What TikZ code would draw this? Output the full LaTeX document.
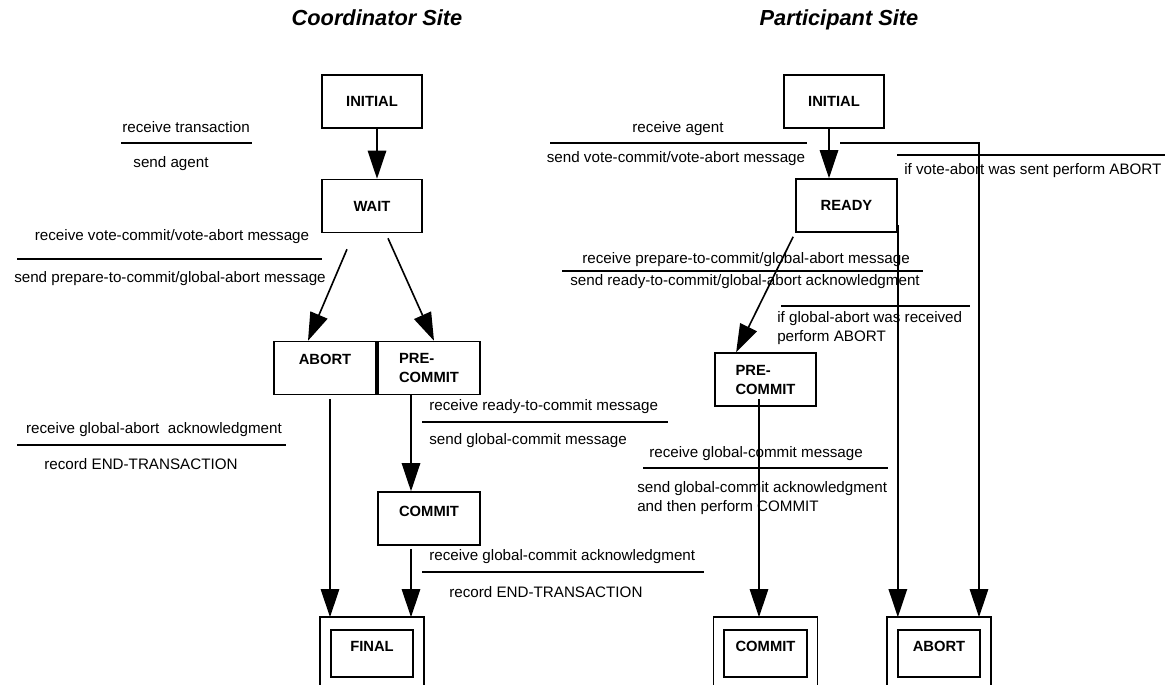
\documentclass[tikz,border=0pt]{standalone}
\usepackage{fontspec}
\setmainfont{Liberation Sans}
\usepackage{tikz}
\usetikzlibrary{arrows.meta, positioning}

\begin{document}
\begin{tikzpicture}[
    x=0.025cm, y=-0.025cm,
    statebox/.style={draw, line width=1.2pt, minimum width=2.5cm, minimum height=1.32cm, inner sep=0pt, align=left, font=\fontsize{10.5}{13.5}\selectfont\bfseries},
    finalbox/.style={statebox, minimum width=2.06cm, minimum height=1.175cm, text depth=0.375cm},
    sitetitle/.style={anchor=mid, font=\fontsize{15.5}{18}\selectfont\bfseries\itshape},
    cond/.style={inner sep=0pt, align=left, font=\fontsize{10.8}{13.5}\selectfont},
    arrw/.style={-{Triangle[length=0.7cm, width=0.46cm]}, line width=1.15pt},
    bar/.style={line width=1.15pt}
]
\useasboundingbox (0,0) rectangle (1166,685);

% Coordinator site
\node[sitetitle] (coordTitle) at (377,22) {Coordinator Site};
\node[statebox] (initL) at (372,101.5) {INITIAL};
\node[statebox] (waitL) at (372,206) {WAIT};
\node[statebox, minimum width=2.55cm, text depth=0.45cm] (abortL) at (325,368) {ABORT};
\node[statebox, minimum width=2.55cm] (precL) at (429,368) {PRE-\\COMMIT};
\node[statebox, minimum width=2.55cm, text depth=0.375cm] (commitL) at (429,518.5) {COMMIT};
\node[finalbox] (finalL) at (372,653.5) {FINAL};

\draw[arrw] ([xshift=0.125cm]initL.south) -- ([xshift=0.125cm]waitL.north);
\draw[arrw] ([shift={(-25,16)}]waitL.south) -- ([shift={(-17,0)}]abortL.north);
\draw[arrw] ([shift={(16,5)}]waitL.south) -- ([shift={(5,0)}]precL.north);
\draw[arrw] ([shift={(5,4)}]abortL.south) -- ([shift={(-42,-12)}]finalL.north);
\draw[arrw] ([shift={(-18,0)}]precL.south) -- ([shift={(-18,0)}]commitL.north);
\draw[arrw] ([shift={(-18,3)}]commitL.south) -- ([shift={(39,-12)}]finalL.north);

\node[cond, anchor=mid] (recvTrans) at (186,129) {receive transaction};
\node[cond, anchor=mid] (sendAgent) at (171,164) {send agent};
\node[cond, anchor=mid] (recvVote) at (172,237) {receive vote-commit/vote-abort message};
\node[cond, anchor=mid] (sendPrep) at (170,279) {send prepare-to-commit/global-abort message};
\node[cond, anchor=mid] (recvAbortAck) at (154,430) {receive global-abort\ \ acknowledgment};
\node[cond, anchor=mid] (recordEndA) at (141,466) {record END-TRANSACTION};
\node[cond, anchor=mid west] (recvReady) at (429,407) {receive ready-to-commit message};
\node[cond, anchor=mid west] (sendCommit) at (429,441) {send global-commit message};
\node[cond, anchor=mid west] (recvCommitAck) at (429,557) {receive global-commit acknowledgment};
\node[cond, anchor=mid west] (recordEndB) at (449,594) {record END-TRANSACTION};

% Participant site
\node[sitetitle] (partTitle) at (839,22) {Participant Site};
\node[statebox] (initR) at (834,101.5) {INITIAL};
\node[statebox, minimum width=2.525cm] (readyR) at (846.5,205.5) {READY};
\node[statebox, minimum width=2.525cm] (precR) at (765.5,379.5) {PRE-\\COMMIT};
\node[finalbox] (commitR) at (765.5,653.5) {COMMIT};
\node[finalbox] (abortR) at (939,653.5) {ABORT};
\coordinate (agentBar) at (840,143);
\coordinate (readyOut) at ([shift={(0,-8)}]readyR.south east);
\coordinate (abortRtop) at ([yshift=0.3cm]abortR.north);

\draw[arrw] ([xshift=-0.125cm]initR.south) -- ([shift={(-17.5,0)}]readyR.north);
\draw[arrw] ([shift={(-2,4)}]readyR.south west) -- ([shift={(22,0)}]precR.north west);
\draw[arrw] ([shift={(-6.5,-8)}]precR.south) -- ([shift={(-6.5,-12)}]commitR.north);
\draw[arrw] (readyOut) -- (readyOut |- abortRtop);
\draw[arrw] (agentBar) -| ([shift={(40,-12)}]abortR.north);

\node[cond, anchor=mid] (recvAgent) at (678,129) {receive agent};
\node[cond, anchor=mid] (sendVote) at (676,159) {send vote-commit/vote-abort message};
\node[cond, anchor=mid west] (voteAbort) at (904,171) {if vote-abort was sent perform ABORT};
\node[cond, anchor=mid] (recvPrep) at (746,260) {receive prepare-to-commit/global-abort message};
\node[cond, anchor=mid] (sendReady) at (745,282) {send ready-to-commit/global-abort acknowledgment};
\node[cond, anchor=north west] (globAbort) at (777,311) {if global-abort was received\\perform ABORT};
\node[cond, anchor=mid west] (recvGlobCommit) at (649,454) {receive global-commit message};
\node[cond, anchor=north west] (sendGlobAck) at (637,481) {send global-commit acknowledgment\\and then perform COMMIT};

% outer frames of the final states
\foreach \n in {finalL, commitR, abortR}
    \draw[line width=1.2pt] ([shift={(-10,8)}]\n.south west) |- ([shift={(10,-12)}]\n.north east) -- ([shift={(10,8)}]\n.south east);

% condition bars
\foreach \xa/\xb/\yy in {121/252/143, 17/322/259, 17/286/445, 422/668/422, 422/704/572, 550/807/143, 897/1165/155, 562/923/271, 781/970/306, 643/888/468}
    \draw[bar] (\xa,\yy) -- (\xb,\yy);
\end{tikzpicture}
\end{document}
